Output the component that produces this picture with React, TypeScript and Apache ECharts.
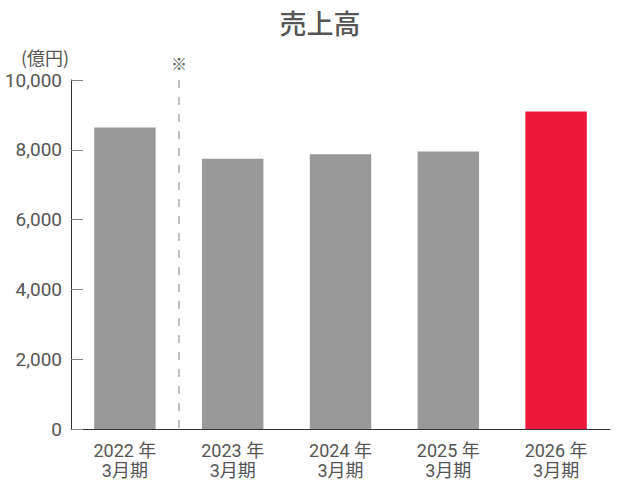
import React, { useEffect, useRef } from "react";
import * as echarts from "echarts";

const categories = ["2022 年\n3月期", "2023 年\n3月期", "2024 年\n3月期", "2025 年\n3月期", "2026 年\n3月期"];
const sales = [8640, 7740, 7870, 7950, 9100];
const barColors = ["#999999", "#999999", "#999999", "#999999", "#EE1A3B"];
const yTicks = [0, 2000, 4000, 6000, 8000, 10000];

const FONT = "Roboto, 'Noto Sans CJK JP', sans-serif";

export default function App() {
  const ref = useRef<HTMLDivElement>(null);
  useEffect(() => {
    if (!ref.current) return;
    const chart = echarts.init(ref.current, undefined, { renderer: "svg" });
    chart.setOption({
      animation: false,
      textStyle: { fontFamily: FONT },
      title: {
        text: "売上高",
        left: "center",
        top: 6,
        textStyle: { fontSize: 27, fontWeight: 500, color: "#555555", fontFamily: FONT },
      },
      grid: { left: 71, right: 30, top: 80, bottom: 50 },
      xAxis: {
        type: "category",
        data: categories,
        axisLine: { lineStyle: { color: "#333333", width: 1 } },
        axisTick: { inside: true, length: 9, lineStyle: { color: "#888888" } },
        axisLabel: { color: "#555555", fontSize: 18, lineHeight: 20, margin: 11, fontFamily: FONT },
        splitLine: {
          show: true,
          interval: (index: number) => index <= 1,
          showMinLine: false,
          showMaxLine: false,
          lineStyle: { color: "#aaaaaa", type: [8, 9], width: 1.5 },
        },
      },
      yAxis: {
        type: "value",
        min: yTicks[0],
        max: yTicks[yTicks.length - 1],
        interval: 2000,
        axisLine: { show: true, lineStyle: { color: "#333333", width: 1 } },
        axisTick: { show: true, inside: true, length: 12, lineStyle: { color: "#888888" } },
        axisLabel: {
          color: "#555555",
          fontSize: 19,
          margin: 9,
          fontFamily: FONT,
          formatter: (v: number) => v.toLocaleString("en-US"),
        },
        splitLine: { show: false },
      },
      graphic: [
        {
          type: "text",
          x: 45,
          y: 57,
          style: { text: "(億円)", fontSize: 18, fill: "#555555", align: "center", verticalAlign: "middle", fontFamily: "'Noto Sans CJK JP', sans-serif" },
        },
        {
          type: "text",
          x: 179,
          y: 63,
          style: { text: "※", fontSize: 16, fill: "#555555", align: "center", verticalAlign: "middle", fontFamily: "'Noto Sans CJK JP', sans-serif" },
        },
      ],
      series: [
        {
          type: "bar",
          data: sales.map((v, i) => ({ value: v, itemStyle: { color: barColors[i] } })),
          barCategoryGap: "43%",
        },
      ],
    });
    return () => chart.dispose();
  }, []);
  return <div ref={ref} style={{ position: "absolute", left: 0, top: 0, width: 640, height: 480 }} />;
}
